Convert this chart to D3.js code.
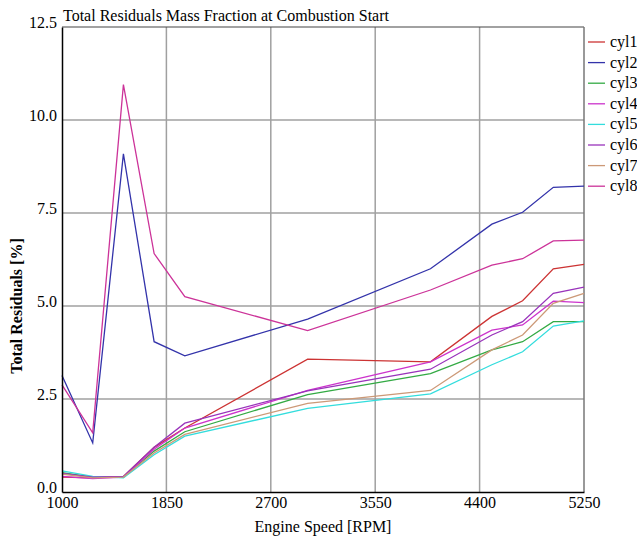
<!DOCTYPE html>
<html><head><meta charset="utf-8">
<script src="https://cdn.jsdelivr.net/npm/d3@7"></script>
<style>body{margin:0;background:#fff}svg{display:block}</style>
</head><body>
<script>
const rpm = [1000,1250,1500,1750,2000,3000,4000,4500,4750,5000,5250];
const seriesNames = ["cyl1","cyl2","cyl3","cyl4","cyl5","cyl6","cyl7","cyl8"];
const cyl1 = [0.40,0.38,0.42,1.20,1.72,3.57,3.50,4.72,5.14,6.00,6.12];
const cyl2 = [3.13,1.32,9.09,4.04,3.66,4.65,6.00,7.20,7.52,8.19,8.22];
const cyl3 = [0.52,0.40,0.40,1.10,1.62,2.62,3.18,3.82,4.04,4.58,4.58];
const cyl4 = [0.42,0.36,0.40,1.15,1.72,2.73,3.50,4.35,4.49,5.13,5.09];
const cyl5 = [0.57,0.42,0.38,1.00,1.50,2.25,2.64,3.42,3.77,4.46,4.60];
const cyl6 = [0.50,0.40,0.42,1.20,1.85,2.72,3.30,4.22,4.58,5.34,5.51];
const cyl7 = [0.48,0.38,0.40,1.05,1.55,2.38,2.73,3.82,4.22,5.07,5.34];
const cyl8 = [2.88,1.59,10.95,6.41,5.25,4.34,5.43,6.10,6.27,6.75,6.77];
const seriesValues = [cyl1,cyl2,cyl3,cyl4,cyl5,cyl6,cyl7,cyl8];
const colors = ["#cc3333","#3333aa","#33aa44","#cc33cc","#33dddd","#9933bb","#cc9977","#cc3399"];
const xTicks = [1000,1850,2700,3550,4400,5250];
const yTicks = [0,2.5,5,7.5,10,12.5];

const FONT = "'Liberation Serif', 'DejaVu Serif', serif";
const W=637,H=539;
const svg=d3.select("body").append("svg").attr("width",W).attr("height",H)
  .attr("font-family",FONT);
const x=d3.scaleLinear().domain([1000,5250]).range([62,584]);
const y=d3.scaleLinear().domain([0,12.5]).range([492,27]);

// grid
svg.append("g").selectAll("line").data(xTicks.slice(1,-1)).join("line")
  .attr("x1",d=>x(d)).attr("x2",d=>x(d)).attr("y1",y(0)).attr("y2",y(12.5))
  .attr("stroke","#a0a0a0").attr("stroke-width",1.5);
svg.append("g").selectAll("line").data(yTicks.slice(1,-1)).join("line")
  .attr("x1",x(1000)).attr("x2",x(5250)).attr("y1",d=>y(d)).attr("y2",d=>y(d))
  .attr("stroke","#a0a0a0").attr("stroke-width",1.5);
// frame
svg.append("line").attr("x1",x(1000)).attr("x2",x(5250)).attr("y1",y(12.5)).attr("y2",y(12.5)).attr("stroke","#444").attr("stroke-width",1.2);
svg.append("line").attr("x1",x(5250)).attr("x2",x(5250)).attr("y1",y(12.5)).attr("y2",y(0)).attr("stroke","#777").attr("stroke-width",1.5);

// lines
const line=d3.line().x((d,i)=>x(rpm[i])).y(d=>y(d));
seriesValues.forEach((vals,k)=>{
  svg.append("path").attr("d",line(vals)).attr("fill","none")
    .attr("stroke",colors[k]).attr("stroke-width",1.3);
});

// axes
const xa=svg.append("g").attr("transform",`translate(0,${y(0)})`)
  .call(d3.axisBottom(x).tickValues(xTicks).tickSize(0).tickPadding(5).tickFormat(d3.format("d")));
xa.attr("font-family",FONT).attr("font-size",16);
xa.select(".domain").attr("stroke","#000").attr("stroke-width",1.5);
xa.selectAll("text").attr("fill","#000");
const ya=svg.append("g").attr("transform",`translate(${x(1000)},0)`)
  .call(d3.axisLeft(y).tickValues(yTicks).tickSize(0).tickPadding(5).tickFormat(d3.format(".1f")));
ya.attr("font-family",FONT).attr("font-size",16);
ya.select(".domain").attr("stroke","#000").attr("stroke-width",1.5);
ya.selectAll("text").attr("fill","#000").attr("dy","0");

// title and labels
svg.append("text").attr("x",63).attr("y",21).attr("font-size",16).text("Total Residuals Mass Fraction at Combustion Start");
svg.append("text").attr("x",323).attr("y",532).attr("text-anchor","middle").attr("font-size",16).text("Engine Speed [RPM]");
svg.append("text").attr("transform","translate(22,306) rotate(-90)").attr("text-anchor","middle")
  .attr("font-size",16).attr("font-weight","bold").text("Total Residuals [%]");

// legend
const lg=svg.append("g");
seriesNames.forEach((n,i)=>{
  const yy=42+i*20.6;
  lg.append("line").attr("x1",588).attr("x2",605).attr("y1",yy).attr("y2",yy).attr("stroke",colors[i]).attr("stroke-width",1.3);
  lg.append("text").attr("x",610).attr("y",yy+5).attr("font-size",16).text(n);
});
</script>
</body></html>
